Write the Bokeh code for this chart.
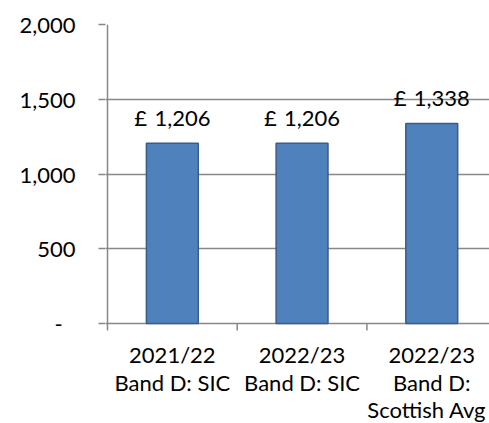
import math
from bokeh.plotting import figure
from bokeh.models import ColumnDataSource, Range1d, FixedTicker, LinearAxis, Grid
from bokeh.core.properties import value
from bokeh.embed import file_html
from bokeh.resources import INLINE

category_lines = [["2021/22", "Band D: SIC"], ["2022/23", "Band D: SIC"], ["2022/23", "Band D:", "Scottish Avg"]]
values = [1206, 1206, 1338]
y_ticks = [0, 500, 1000, 1500, 2000]
y_tick_labels = ["-\u2007", "500", "1,000", "1,500", "2,000"]

FONT = "Lato"
FS = "22px"
GRAY = "#888888"

# layout (pixels)
W, H = 489, 423
TOP, AXIS_Y = 24, 323          # y of 2,000 gridline and of the category axis
LEFT = 105                     # frame left edge
AXIS_X = 107                   # value axis line
CAT_W = 129.7                  # width of one category
Y_MAX = 2000
ppu = (AXIS_Y - TOP) / Y_MAX
y_start = -(H - AXIS_Y) / ppu
x_start = -(AXIS_X - LEFT) / CAT_W
x_end = (W - AXIS_X) / CAT_W

xs = [i + 0.5 for i in range(len(values))]
src = ColumnDataSource(dict(
    x=xs, top=values, label=["£\u2004{:,}".format(v) for v in values]))

p = figure(width=W, height=H, output_backend="svg", toolbar_location=None,
           x_range=Range1d(x_start, x_end), y_range=Range1d(y_start, Y_MAX),
           x_axis_type=None, y_axis_type=None,
           min_border_left=LEFT, min_border_right=0, min_border_top=TOP, min_border_bottom=0)
p.outline_line_color = None
p.background_fill_color = "white"
p.border_fill_color = "white"

ya = LinearAxis(ticker=FixedTicker(ticks=y_ticks, minor_ticks=[]))
ya.major_label_overrides = {t: l for t, l in zip(y_ticks, y_tick_labels)}
ya.major_label_text_font = FONT
ya.major_label_text_font_size = FS
ya.major_label_text_color = "black"
ya.major_label_standoff = 23
ya.major_tick_out = 7
ya.major_tick_in = 0
ya.minor_tick_out = 0
ya.axis_line_color = None
ya.major_tick_line_color = GRAY
ya.major_tick_line_width = 1.5
p.add_layout(ya, "left")

g = Grid(dimension=1, ticker=ya.ticker, grid_line_color=GRAY, grid_line_width=1.5)
p.add_layout(g)

# value axis line
p.segment(x0=[0], y0=[0], x1=[0], y1=[Y_MAX], line_color=GRAY, line_width=1.5)
# category axis tick marks (category boundaries)
bounds = list(range(len(values) + 1))
p.ray(x=bounds, y=[0] * len(bounds), length=7, length_units="screen",
      angle=-math.pi / 2, line_color=GRAY, line_width=1.5)

p.vbar(x="x", top="top", width=0.4, bottom=0, source=src,
       fill_color="#4F81BD", line_color="#385D8A", line_width=1.5)
p.text(x="x", y="top", text="label", source=src, y_offset=-26,
       text_align="center", text_baseline="alphabetic",
       text_font=value(FONT), text_font_size=FS, text_color="black")

# category labels, one text line each (long last line nudged left to stay inside the page)
lx, ly, lt, lyoff, lxoff = [], [], [], [], []
for x, lines in zip(xs, category_lines):
    for i, line in enumerate(lines):
        lx.append(x); ly.append(0); lt.append(line)
        lyoff.append(31 + 27.5 * i)
        lxoff.append(-5 if len(line) > 11 and x == xs[-1] else 0)
p.text(x=lx, y=ly, text=lt, x_offset=lxoff, y_offset=lyoff,
       text_align="center", text_baseline="alphabetic",
       text_font=value(FONT), text_font_size=FS, text_color="black")

open("out.html", "w").write(file_html(p, INLINE))
